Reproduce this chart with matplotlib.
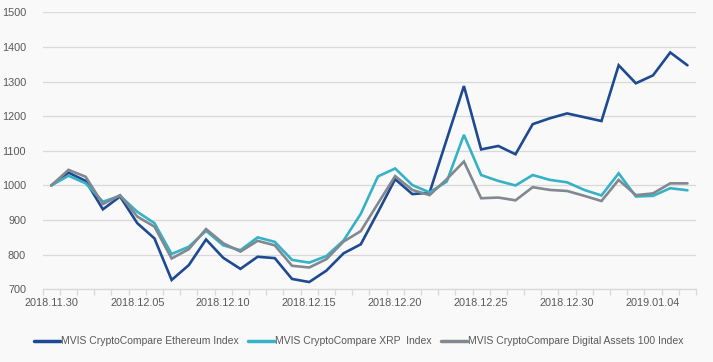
import matplotlib
matplotlib.use("Agg")
import matplotlib.pyplot as plt
import numpy as np
import datetime as dt

plt.rcParams['font.family'] = ['Liberation Sans', 'DejaVu Sans']

start = dt.date(2018, 11, 30)
dates = [(start + dt.timedelta(days=i)).strftime("%Y.%m.%d") for i in range(38)]

eth = [1000, 1037, 1013, 931, 968, 891, 847, 727, 770, 844,
       791, 759, 794, 790, 730, 721, 754, 804, 830, 923,
       1018, 975, 979, 1133, 1287, 1104, 1114, 1090, 1177, 1194,
       1208, 1197, 1186, 1347, 1295, 1318, 1384, 1347]
xrp = [1000, 1028, 1006, 953, 970, 924, 891, 802, 823, 869,
       827, 813, 850, 837, 785, 777, 796, 841, 918, 1026,
       1049, 1001, 980, 1011, 1146, 1030, 1013, 1000, 1030, 1016,
       1009, 987, 971, 1035, 968, 970, 992, 986]
da100 = [1000, 1045, 1025, 946, 972, 910, 881, 789, 816, 874,
         833, 809, 840, 827, 768, 763, 787, 838, 868, 948,
         1027, 987, 972, 1018, 1069, 963, 965, 957, 995, 987,
         984, 970, 955, 1016, 972, 977, 1006, 1006]

series_names = ["MVIS CryptoCompare Ethereum Index",
                "MVIS CryptoCompare XRP  Index",
                "MVIS CryptoCompare Digital Assets 100 Index"]
colors = ["#1d4a90", "#36b2c6", "#818890"]

bg = "#f9f9f9"
fig = plt.figure(figsize=(7.13, 3.62), dpi=100, facecolor=bg)
ax = fig.add_axes([0.0599, 0.2008, 0.9163, 0.7652], facecolor=bg)

x = np.arange(len(dates))
for vals, name, c in zip([eth, xrp, da100], series_names, colors):
    ax.plot(x, vals, color=c, lw=1.9, label=name, solid_joinstyle='miter', solid_capstyle='round')

ax.set_ylim(700, 1500)
ax.set_yticks(np.arange(700, 1501, 100))
ax.set_xlim(-0.5, len(dates) - 0.5)
ax.yaxis.grid(True, color="#d9d9d9", lw=0.9)
ax.set_axisbelow(True)

ax.set_xticks(x[::5])
ax.set_xticklabels([dates[i] for i in range(0, len(dates), 5)])
ax.set_xticks(np.arange(-0.5, len(dates), 1.0), minor=True)
ax.tick_params(axis='x', which='major', length=0, pad=6, labelsize=7.8, labelcolor="#595959")
ax.tick_params(axis='x', which='minor', length=4, color="#d9d9d9", width=0.9)
ax.tick_params(axis='y', length=0, pad=12, labelsize=7.8, labelcolor="#595959")
for s in ['top', 'right', 'left']:
    ax.spines[s].set_visible(False)
ax.spines['bottom'].set_color("#d9d9d9")
ax.spines['bottom'].set_linewidth(0.9)

leg = fig.legend(loc='center', bbox_to_anchor=(0.503, 0.057), ncol=3, frameon=False,
                 fontsize=7.5, handlelength=2.5, handletextpad=0.1, columnspacing=0.9)
for t in leg.get_texts():
    t.set_color("#595959")
for h in leg.get_lines():
    h.set_linewidth(2.5)

fig.savefig("out.png", dpi=100, facecolor=bg)
